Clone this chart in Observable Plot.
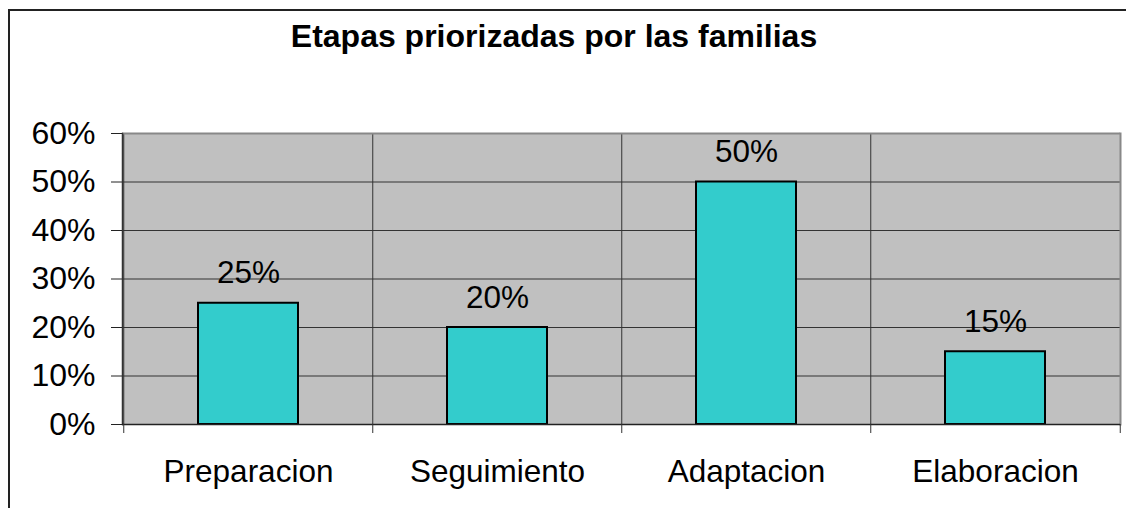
<!DOCTYPE html>
<html>
<head>
<meta charset="utf-8">
<script src="https://cdn.jsdelivr.net/npm/d3@7"></script>
<script src="https://cdn.jsdelivr.net/npm/@observablehq/plot@0.6"></script>
<style>
  html, body { margin: 0; padding: 0; background: #fff; overflow: hidden; }
  #wrap { position: relative; width: 1126px; height: 508px; overflow: hidden; font-family: "Liberation Sans", Arial, sans-serif; }
  #frame { position: absolute; left: 8px; top: 9px; width: 1200px; height: 600px; border: 2px solid #222; box-sizing: border-box; }
  #title { position: absolute; left: 0; width: 1108px; top: 18px; text-align: center; font-weight: bold; font-size: 32px; color: #000; line-height: 36px; }
  #chart { position: absolute; left: 0; top: 0; }
</style>
</head>
<body>
<div id="wrap">
  <div id="frame"></div>
  <div id="chart"></div>
  <div id="title">Etapas priorizadas por las familias</div>
</div>
<script>
const categories = ["Preparacion", "Seguimiento", "Adaptacion", "Elaboracion"];
const values = [0.25, 0.20, 0.50, 0.15];
const yTicks = [0, 0.1, 0.2, 0.3, 0.4, 0.5, 0.6];

const data = categories.map((c, i) => ({cat: c, v: values[i]}));

const W = 1126, H = 508;
const mL = 122, mR = 6, mT = 133, mB = 84;
const step = (W - mL - mR) / categories.length;
const fmt = d3.format(".0%");

const chart = Plot.plot({
  width: W,
  height: H,
  marginLeft: mL,
  marginRight: mR,
  marginTop: mT,
  marginBottom: mB,
  style: {fontFamily: "'Liberation Sans', Arial, sans-serif", background: "transparent", overflow: "visible"},
  x: {domain: categories, paddingInner: 0.6, paddingOuter: 0.3, label: null},
  y: {domain: [0, 0.6], label: null},
  marks: [
    Plot.frame({fill: "#c0c0c0", stroke: null}),
    Plot.ruleY(yTicks.slice(1, -1), {stroke: "#333", strokeWidth: 1}),
    Plot.gridX({dx: -step / 2, stroke: "#333", strokeOpacity: 1, strokeWidth: 1}),
    Plot.ruleY([yTicks[yTicks.length - 1]], {stroke: "#888", strokeWidth: 2}),
    Plot.frame({anchor: "right", stroke: "#888", strokeWidth: 2}),
    Plot.barY(data, {x: "cat", y: "v", fill: "#33cccc", stroke: "#000", strokeWidth: 2}),
    Plot.text(data, {x: "cat", y: "v", text: d => fmt(d.v), dy: -20, lineAnchor: "bottom", fontSize: 31.5, fill: "#000"}),
    Plot.frame({anchor: "left", stroke: "#333", strokeWidth: 1.5}),
    Plot.ruleY([0], {stroke: "#222", strokeWidth: 1.5}),
    Plot.axisY({ticks: yTicks, tickFormat: fmt, tickSize: 11, tickPadding: 16, fontSize: 32, stroke: "#222", fill: "#000", label: null}),
    Plot.axisX({tickSize: 9, dx: -step / 2, text: null, stroke: "#333", label: null}),
    Plot.axisX({ticks: [categories[categories.length - 1]], tickSize: 9, dx: step / 2, text: null, stroke: "#333", label: null}),
    Plot.axisX({tickSize: 0, tickPadding: 35, fontSize: 31.5, fill: "#000", label: null})
  ]
});
document.getElementById("chart").appendChild(chart);
</script>
</body>
</html>
